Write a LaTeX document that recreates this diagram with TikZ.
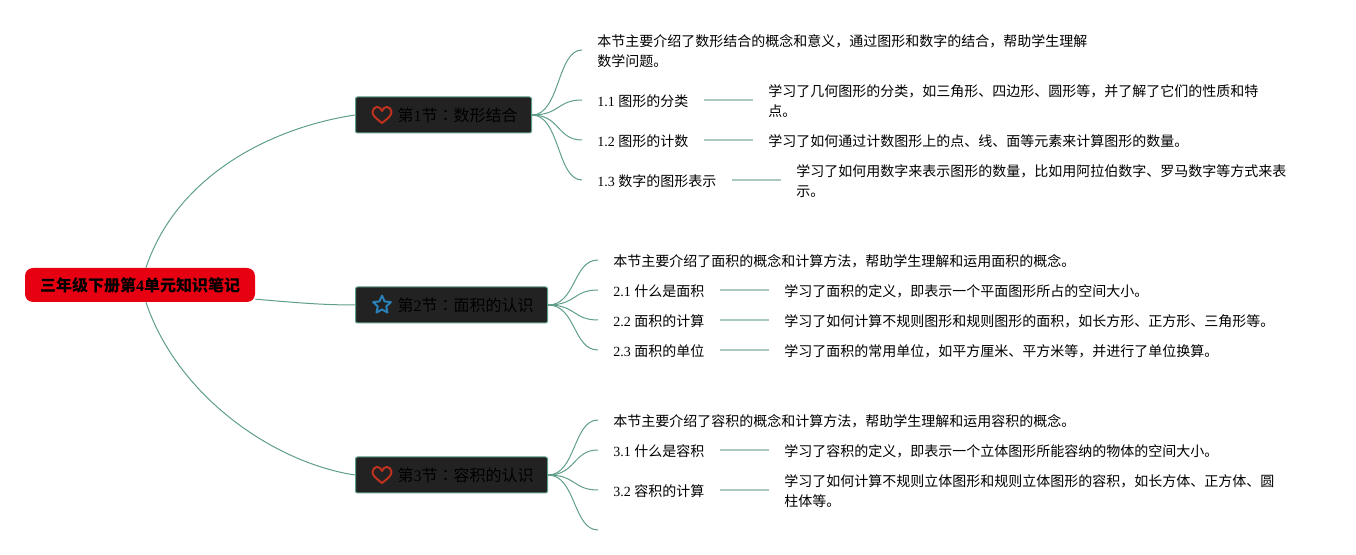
\documentclass[tikz,border=0pt]{standalone}
\usepackage{fontspec}
\setmainfont{Noto Sans CJK SC}
\newfontfamily\latinf{Liberation Serif}
\newfontfamily\colonf{Noto Sans CJK TC}
\newcommand{\lt}[1]{{\latinf #1}}
\newcommand{\cln}{{\colonf ：}}
\usetikzlibrary{shapes.geometric}
\definecolor{linegreen}{HTML}{5F9E8B}
\definecolor{twiggreen}{HTML}{A9C9BE}
\definecolor{rootred}{HTML}{E60012}
\definecolor{boxdark}{HTML}{222222}
\definecolor{heartred}{HTML}{C0321E}
\definecolor{starblue}{HTML}{2A80B9}
\tikzset{heart/.pic={
  \draw[heartred,line width=1.5pt,line join=round] (0,8) .. controls (-5,4) and (-9.5,1) .. (-9.5,-3)
    .. controls (-9.5,-6) and (-7,-8) .. (-5,-8) .. controls (-3,-8) and (-1,-7) .. (0,-4)
    .. controls (1,-7) and (3,-8) .. (5,-8) .. controls (7,-8) and (9.5,-6) .. (9.5,-3)
    .. controls (9.5,1) and (5,4) .. cycle;}}
\begin{document}
\begin{tikzpicture}[x=0.75pt,y=-0.75pt,
  rootbox/.style={fill=rootred,rounded corners=6pt,minimum width=172.5pt,minimum height=25.5pt,inner sep=0pt,font=\fontsize{12}{15}\selectfont\bfseries},
  secbox/.style={draw=linegreen,fill=boxdark,line width=0.75pt,rounded corners=1.5pt,anchor=west,minimum height=27pt,inner xsep=10.5pt,inner ysep=0pt,text height=12pt,text depth=1.5pt,font=\fontsize{12}{15}\selectfont},
  leaf/.style={anchor=west,align=left,inner xsep=11.25pt,inner ysep=0pt,yshift=-0.75pt,font=\fontsize{10.5}{15}\selectfont},
  branch/.style={draw=linegreen,line width=0.75pt},
  twig/.style={draw=twiggreen,line width=1.2pt}]
  \useasboundingbox (0,0) rectangle (1356,555);
  % root and the three sections
  \node[rootbox] (root) at (140,285) {三年级下册第\lt{4}单元知识笔记};
  \node[secbox] (sec1) at (355,115) {\hspace*{21pt}第\lt{1}节\cln 数形结合};
  \node[secbox] (sec2) at (355,305) {\hspace*{21pt}第\lt{2}节\cln 面积的认识};
  \node[secbox] (sec3) at (355,475) {\hspace*{21pt}第\lt{3}节\cln 容积的认识};
  \pic at (382,115) {heart};
  \node[star,star points=5,star point ratio=2.1,draw=starblue,line width=1.5pt,line join=round,minimum size=14pt,inner sep=0pt] (star2) at (382,305) {};
  \pic at (382,475) {heart};
  % section 1
  \node[leaf] (l10) at (582,50) {本节主要介绍了数形结合的概念和意义，通过图形和数字的结合，帮助学生理解\\数学问题。};
  \node[leaf] (l11) at (582,100) {\lt{1.1 }图形的分类};
  \node[leaf] (l12) at (582,140) {\lt{1.2 }图形的计数};
  \node[leaf] (l13) at (582,180) {\lt{1.3 }数字的图形表示};
  \node[leaf] (d11) at (753,100) {学习了几何图形的分类，如三角形、四边形、圆形等，并了解了它们的性质和特\\点。};
  \node[leaf] (d12) at (753,140) {学习了如何通过计数图形上的点、线、面等元素来计算图形的数量。};
  \node[leaf] (d13) at (781,180) {学习了如何用数字来表示图形的数量，比如用阿拉伯数字、罗马数字等方式来表\\示。};
  % section 2
  \node[leaf] (l20) at (598,260) {本节主要介绍了面积的概念和计算方法，帮助学生理解和运用面积的概念。};
  \node[leaf] (l21) at (598,290) {\lt{2.1 }什么是面积};
  \node[leaf] (l22) at (598,320) {\lt{2.2 }面积的计算};
  \node[leaf] (l23) at (598,350) {\lt{2.3 }面积的单位};
  \node[leaf] (d21) at (769,290) {学习了面积的定义，即表示一个平面图形所占的空间大小。};
  \node[leaf] (d22) at (769,320) {学习了如何计算不规则图形和规则图形的面积，如长方形、正方形、三角形等。};
  \node[leaf] (d23) at (769,350) {学习了面积的常用单位，如平方厘米、平方米等，并进行了单位换算。};
  % section 3
  \node[leaf] (l30) at (598,420) {本节主要介绍了容积的概念和计算方法，帮助学生理解和运用容积的概念。};
  \node[leaf] (l31) at (598,450) {\lt{3.1 }什么是容积};
  \node[leaf] (l32) at (598,490) {\lt{3.2 }容积的计算};
  \coordinate (l33) at (598,530);
  \node[leaf] (d31) at (769,450) {学习了容积的定义，即表示一个立体图形所能容纳的物体的空间大小。};
  \node[leaf] (d32) at (769,490) {学习了如何计算不规则立体图形和规则立体图形的容积，如长方体、正方体、圆\\柱体等。};
  % connectors
  \draw[branch] (root.71) .. controls +(32,-95) and +(-80,12) .. (sec1.west);
  \draw[branch] (root.-7.4) .. controls +(35,3) and +(-35,0) .. (sec2.west);
  \draw[branch] (root.-71) .. controls +(32,95) and +(-80,-12) .. (sec3.west);
  \foreach \s/\l in {sec1/l10,sec1/l11,sec1/l12,sec1/l13,sec2/l20,sec2/l21,sec2/l22,sec2/l23,sec3/l30,sec3/l31,sec3/l32}
    \draw[branch] (\s.east) .. controls +(28,0) and +(-25,0) .. ([yshift=0.75pt]\l.west);
  \draw[branch] (sec3.east) .. controls +(28,0) and +(-25,0) .. (l33);
  \foreach \l/\d in {l11/d11,l12/d12,l13/d13,l21/d21,l22/d22,l23/d23,l31/d31,l32/d32}
    \draw[twig] ([yshift=0.75pt]\l.east) -- ([yshift=0.75pt]\d.west);
\end{tikzpicture}
\end{document}
